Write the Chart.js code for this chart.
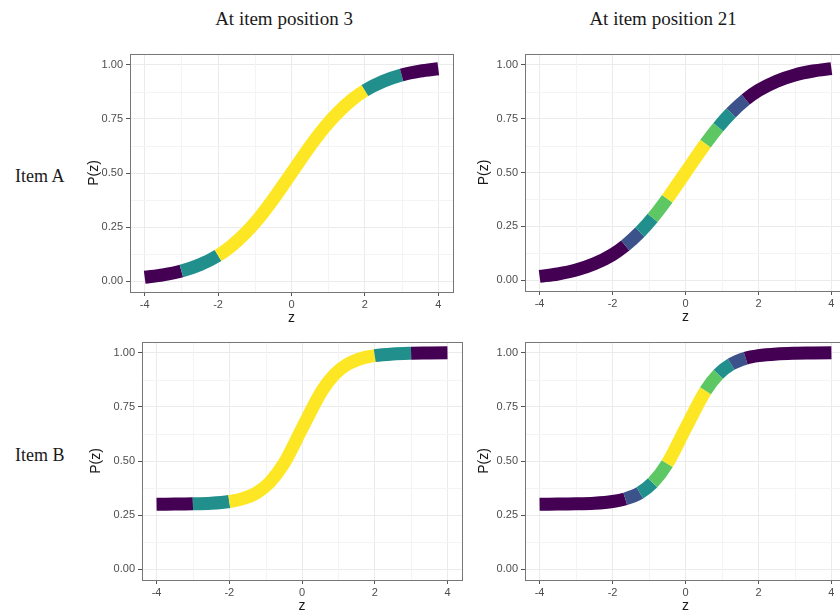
<!DOCTYPE html>
<html>
<head>
<meta charset="utf-8">
<script src="https://cdn.jsdelivr.net/npm/chart.js@4.4.1/dist/chart.umd.min.js"></script>
<style>
  html, body { margin: 0; padding: 0; background: #fff; }
  body { width: 840px; height: 611px; position: relative; overflow: hidden; }
  canvas { position: absolute; }
  .label {
    position: absolute;
    font-family: "Liberation Serif", "Times New Roman", serif;
    color: #1a1a1a;
    white-space: nowrap;
  }
  .col { font-size: 19px; line-height: 22px; top: 8px; width: 240px; text-align: center; }
  .row { font-size: 18px; line-height: 20px; left: 15px; }
</style>
</head>
<body>
<div class="label col" style="left:164px">At item position 3</div>
<div class="label col" style="left:543px">At item position 21</div>
<div class="label row" style="top:166px">Item A</div>
<div class="label row" style="top:445px">Item B</div>

<canvas id="a3"></canvas>
<canvas id="a21"></canvas>
<canvas id="b3"></canvas>
<canvas id="b21"></canvas>

<script>
// latent trait values where the curves were read
const zValues = [-4, -3.5, -3, -2.5, -2, -1.65, -1.25, -0.9, -0.5, 0, 0.55, 0.9, 1.25, 1.65, 2, 2.5, 3, 3.5, 4];

// response probability for each item
const itemA = [0.018, 0.029, 0.047, 0.076, 0.119, 0.161, 0.223, 0.289, 0.378, 0.500,
               0.634, 0.711, 0.777, 0.839, 0.881, 0.924, 0.953, 0.971, 0.982];
const itemB = [0.300, 0.301, 0.302, 0.305, 0.313, 0.325, 0.353, 0.399, 0.488, 0.650,
               0.825, 0.901, 0.947, 0.975, 0.987, 0.995, 0.998, 0.999, 1.000];

// colour level of each segment between consecutive z values (0 = lowest .. 4 = highest)
const pos3Bands = [0, 0, 2, 2, 4, 4, 4, 4, 4, 4, 4, 4, 4, 4, 2, 2, 0, 0];
const pos21Bands = [0, 0, 0, 0, 0, 1, 2, 3, 4, 4, 3, 2, 1, 0, 0, 0, 0, 0];

// axis ticks
const xTicks = [-4, -2, 0, 2, 4];
const yTicks = [0, 0.25, 0.5, 0.75, 1];
const xMinor = [-3, -1, 1, 3];
const yMinor = [0.125, 0.375, 0.625, 0.875];

const viridis = ['#440154', '#3B528B', '#21908C', '#5DC863', '#FDE725'];

// minor grid under the curve, panel border on top
const panelFrame = {
  id: 'panelFrame',
  beforeDatasetsDraw(chart) {
    const { ctx, chartArea: a, scales: { x, y } } = chart;
    ctx.save();
    ctx.strokeStyle = '#f4f4f4';
    ctx.lineWidth = 1;
    ctx.beginPath();
    xMinor.forEach((v) => {
      const px = Math.round(x.getPixelForValue(v)) + 0.5;
      ctx.moveTo(px, a.top);
      ctx.lineTo(px, a.bottom);
    });
    yMinor.forEach((v) => {
      const py = Math.round(y.getPixelForValue(v)) + 0.5;
      ctx.moveTo(a.left, py);
      ctx.lineTo(a.right, py);
    });
    ctx.stroke();
    ctx.restore();
  },
  afterDraw(chart) {
    const { ctx, chartArea: a } = chart;
    ctx.save();
    ctx.strokeStyle = '#777';
    ctx.lineWidth = 1;
    ctx.strokeRect(Math.round(a.left) + 0.5, Math.round(a.top) + 0.5,
                   Math.round(a.right - a.left), Math.round(a.bottom - a.top));
    ctx.restore();
  },
};

function makePanel(id, box, probs, bands) {
  const canvas = document.getElementById(id);
  canvas.width = box.w;
  canvas.height = box.h;
  canvas.style.left = box.left + 'px';
  canvas.style.top = box.top + 'px';
  canvas.style.width = box.w + 'px';
  canvas.style.height = box.h + 'px';

  const points = zValues.map((z, i) => ({ x: z, y: probs[i] }));

  return new Chart(canvas.getContext('2d'), {
    type: 'line',
    data: {
      datasets: [{
        data: points,
        borderWidth: 13,
        borderCapStyle: 'butt',
        borderJoinStyle: 'round',
        cubicInterpolationMode: 'monotone',
        pointRadius: 0,
        borderColor: viridis[bands[0]],
        segment: {
          borderColor: (ctx) => viridis[bands[ctx.p0DataIndex]],
        },
      }],
    },
    options: {
      responsive: false,
      devicePixelRatio: 1,
      animation: false,
      events: [],
      layout: { padding: { top: 10, right: 10, bottom: 0, left: 0 } },
      plugins: { legend: { display: false }, tooltip: { enabled: false } },
      scales: {
        x: {
          type: 'linear',
          min: -4.4,
          max: 4.4,
          afterBuildTicks: (scale) => { scale.ticks = xTicks.map((v) => ({ value: v })); },
          afterFit: (scale) => { scale.height = 36; },
          grid: { color: '#ebebeb', tickColor: '#555', tickLength: 4, lineWidth: 1 },
          border: { display: false },
          ticks: {
            padding: 2,
            color: '#4d4d4d',
            font: { family: 'Liberation Sans, Arial, sans-serif', size: 11 },
            maxRotation: 0,
            callback: (v) => String(v),
          },
          title: {
            display: true,
            text: 'z',
            color: '#1a1a1a',
            padding: { top: 0, bottom: 1 },
            font: { family: 'Liberation Sans, Arial, sans-serif', size: 14 },
          },
        },
        y: {
          type: 'linear',
          min: -0.05,
          max: 1.05,
          afterBuildTicks: (scale) => { scale.ticks = yTicks.map((v) => ({ value: v })); },
          afterFit: (scale) => { scale.width = box.yw; },
          grid: { color: '#ebebeb', tickColor: '#555', tickLength: 4, lineWidth: 1 },
          border: { display: false },
          ticks: {
            padding: 3,
            color: '#4d4d4d',
            font: { family: 'Liberation Sans, Arial, sans-serif', size: 11 },
            callback: (v) => v.toFixed(2),
          },
          title: {
            display: true,
            text: 'P(z)',
            color: '#1a1a1a',
            padding: { top: box.titlePad, bottom: 0 },
            font: { family: 'Liberation Sans, Arial, sans-serif', size: 14 },
          },
        },
      },
    },
    plugins: [panelFrame],
  });
}

makePanel('a3', { left: 80, top: 44, w: 383, h: 284, yw: 50, titlePad: 6 }, itemA, pos3Bands);
makePanel('a21', { left: 475, top: 44, w: 381, h: 283, yw: 50, titlePad: 1 }, itemA, pos21Bands);
makePanel('b3', { left: 87, top: 332, w: 385, h: 284, yw: 55, titlePad: 1 }, itemB, pos3Bands);
makePanel('b21', { left: 475, top: 332, w: 381, h: 284, yw: 50, titlePad: 1 }, itemB, pos21Bands);
</script>
</body>
</html>
